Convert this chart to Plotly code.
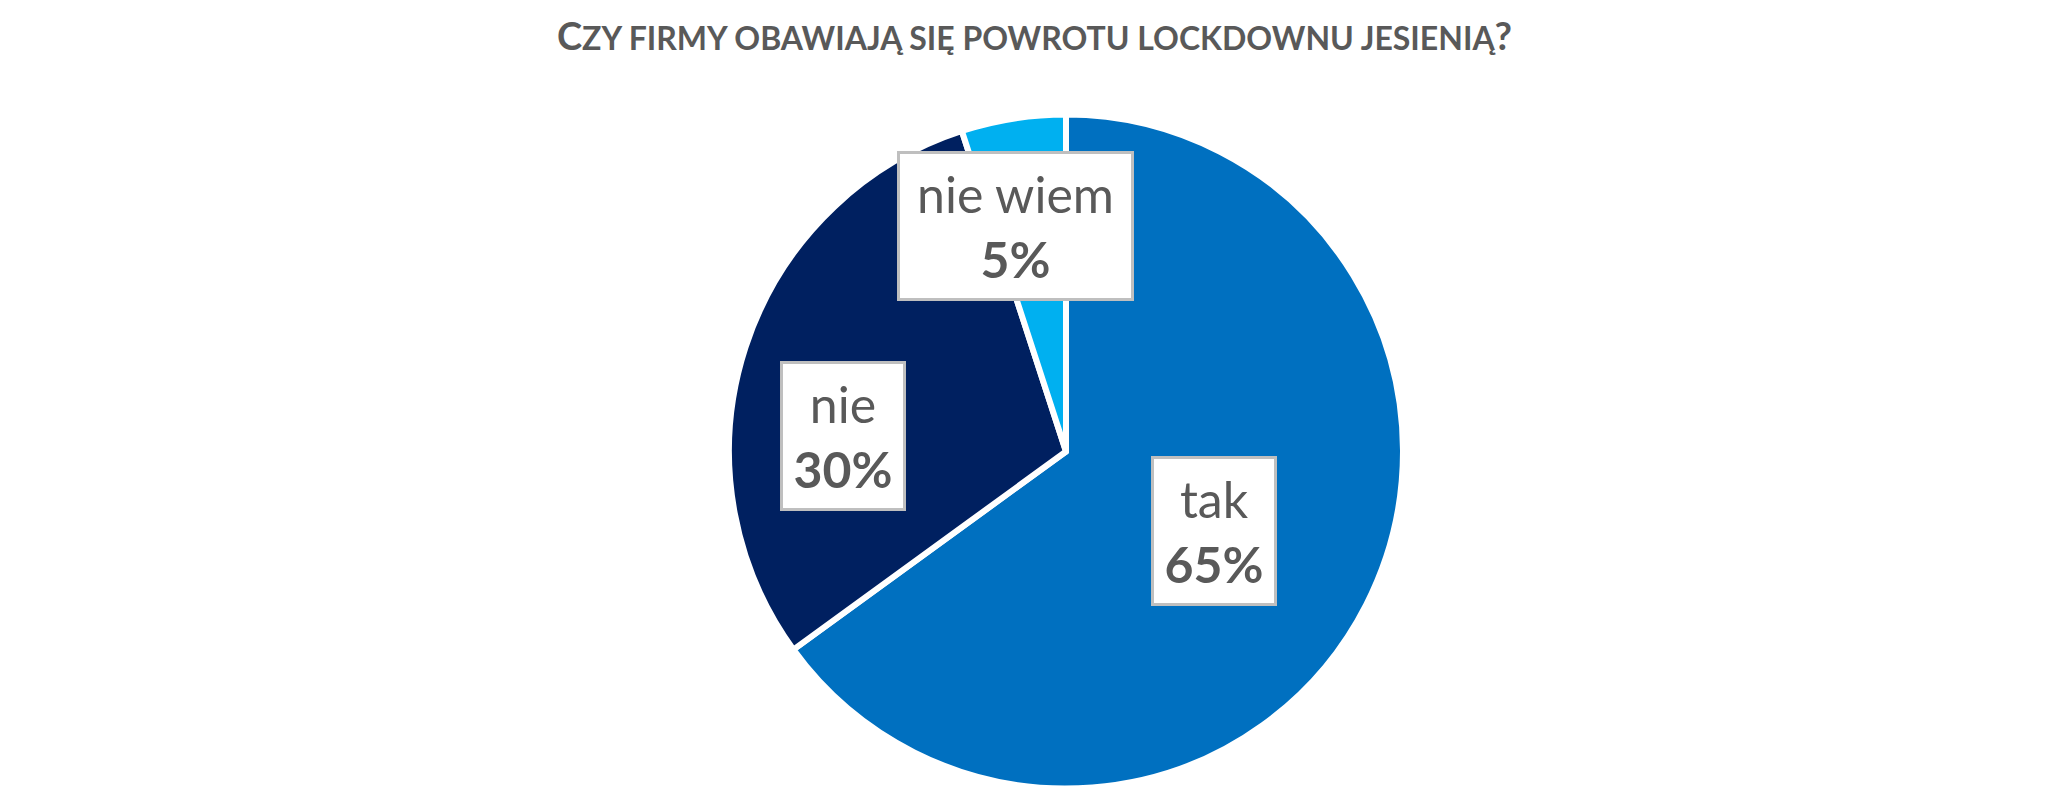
import plotly.graph_objects as go

labels = ["tak", "nie", "nie wiem"]
values = [65, 30, 5]
colors = ["#0070C0", "#002060", "#00B0F0"]
title_text = "Czy firmy obawiają się powrotu lockdownu jesienią?"

W, H = 2069, 807

fig = go.Figure(go.Pie(
    labels=labels,
    values=values,
    sort=False,
    direction="clockwise",
    rotation=0,
    marker=dict(colors=colors, line=dict(color="white", width=6)),
    textinfo="none",
    hoverinfo="label+percent",
    showlegend=False,
    domain=dict(x=[729 / W, 1403 / W], y=[1 - 789 / H, 1 - 114 / H]),
))

# label boxes (centre in pixels, box text-area size)
label_boxes = {
    "tak": (1214, 531, 120, 144),
    "nie": (843, 436, 120, 144),
    "nie wiem": (1015.5, 226, 231, 144),
}
total = sum(values)
for lab, val in zip(labels, values):
    cx, cy, bw, bh = label_boxes[lab]
    fig.add_annotation(
        x=cx / W, y=1 - cy / H, xref="paper", yref="paper",
        xanchor="center", yanchor="middle",
        text=f"{lab}<br><b>{round(val / total * 100)}%</b>",
        showarrow=False,
        font=dict(family="Lato", size=50, color="#595959"),
        bgcolor="white", bordercolor="#BFBFBF", borderwidth=3, borderpad=0,
        width=bw, height=bh, align="center",
    )

# title in small-caps style: first letter and question mark larger
title_html = (
    f"<b>{title_text[0]}"
    f"<span style='font-size:32px'>{title_text[1:-1]}</span>"
    f"{title_text[-1]}</b>"
)

fig.update_layout(
    width=W, height=H,
    margin=dict(l=0, r=0, t=0, b=0),
    paper_bgcolor="white", plot_bgcolor="white",
    title=dict(
        text=title_html,
        x=0.5, xanchor="center", y=1 - 37 / H, yanchor="middle",
        font=dict(family="Lato", size=38, color="#595959", textcase="upper"),
    ),
)

fig.write_html("out.html")
